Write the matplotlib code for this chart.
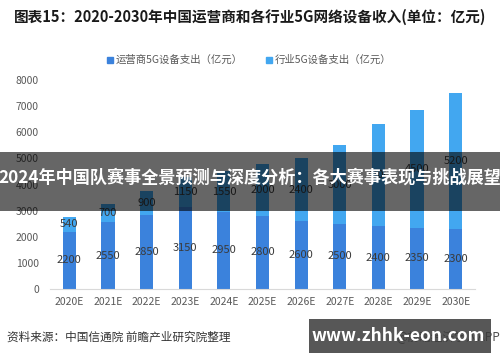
import matplotlib
matplotlib.use("Agg")
import matplotlib.pyplot as plt
from matplotlib.patches import Rectangle
from matplotlib.lines import Line2D

plt.rcParams['font.family'] = ['Noto Sans CJK SC', 'DejaVu Sans']

# data
years = ['2020E', '2021E', '2022E', '2023E', '2024E', '2025E',
         '2026E', '2027E', '2028E', '2029E', '2030E']
operator = [2200, 2550, 2850, 3150, 2950, 2800, 2600, 2500, 2400, 2350, 2300]
industry = [540, 700, 900, 1150, 1550, 2000, 2400, 3000, 3900, 4500, 5200]
yticks = [0, 1000, 2000, 3000, 4000, 5000, 6000, 7000, 8000]

c_op = '#3b82dc'
c_ind = '#42a7f0'

fig = plt.figure(figsize=(5, 3.62), dpi=100)
ax = fig.add_axes([0.1, 0.2017, 0.85, 0.577])

x = list(range(len(years)))
w = 0.34
ax.bar(x, operator, width=w, color=c_op, zorder=2)
ax.bar(x, industry, width=w, bottom=operator, color=c_ind, zorder=2)

# value labels in the middle of each segment
for i in x:
    ax.text(i, operator[i] / 2, str(operator[i]), ha='center', va='center',
            fontsize=8, color='#3a3a3a', zorder=3)
    ax.text(i, operator[i] + industry[i] / 2, str(industry[i]), ha='center',
            va='center', fontsize=8, color='#3a3a3a', zorder=3)

ax.set_xlim(-0.5, 10.5)
ax.set_ylim(0, 8000)
ax.set_yticks(yticks)
ax.set_xticks(x)
ax.set_xticklabels(years)
ax.tick_params(length=0, labelsize=7.5, labelcolor='#595959')
ax.tick_params(axis='y', pad=8)
ax.tick_params(axis='x', pad=6)
for s in ['top', 'right', 'left']:
    ax.spines[s].set_visible(False)
ax.spines['bottom'].set_color('#d9d9d9')

# legend
handles = [Line2D([], [], marker='s', ls='', color=c_op, markersize=4),
           Line2D([], [], marker='s', ls='', color=c_ind, markersize=4)]
fig.legend(handles, ['运营商5G设备支出（亿元）', '行业5G设备支出（亿元）'],
           loc='center', bbox_to_anchor=(0.497, 0.834), ncol=2, frameon=False,
           fontsize=7.5, labelcolor='#595959', handletextpad=0.1,
           columnspacing=2.2, handlelength=0.8)

# title and source
fig.text(0.5, 0.953, '图表15：2020-2030年中国运营商和各行业5G网络设备收入(单位：亿元)',
         ha='center', va='center', fontsize=10.5, fontweight='bold', color='#1a1a1a')
fig.text(0.014, 0.069, '资料来源：中国信通院 前瞻产业研究院整理',
         ha='left', va='center', fontsize=8.4, color='#333333')
fig.text(1.0, 0.069, '@前瞻经济学人APP', ha='right', va='center',
         fontsize=8.5, color='#4d4d4d')

# dark banner across the chart
fig.patches.append(Rectangle((0, 0.417), 1, 0.163, transform=fig.transFigure,
                             color='black', alpha=0.6, zorder=5, lw=0))
fig.text(0.5, 0.508, '2024年中国队赛事全景预测与深度分析：各大赛事表现与挑战展望',
         ha='center', va='center', fontsize=12.3, fontweight='bold',
         color='white', zorder=6)

# site box bottom right
fig.patches.append(Rectangle((0.618, 0.025), 0.364, 0.094,
                             transform=fig.transFigure, color='#3a3a3a',
                             alpha=0.85, zorder=5, lw=0))
fig.text(0.797, 0.072, 'www.zhhk-eon.com', ha='center', va='center',
         fontsize=12.5, fontweight='bold', color='white', zorder=6)

fig.savefig('out.png', dpi=100)
